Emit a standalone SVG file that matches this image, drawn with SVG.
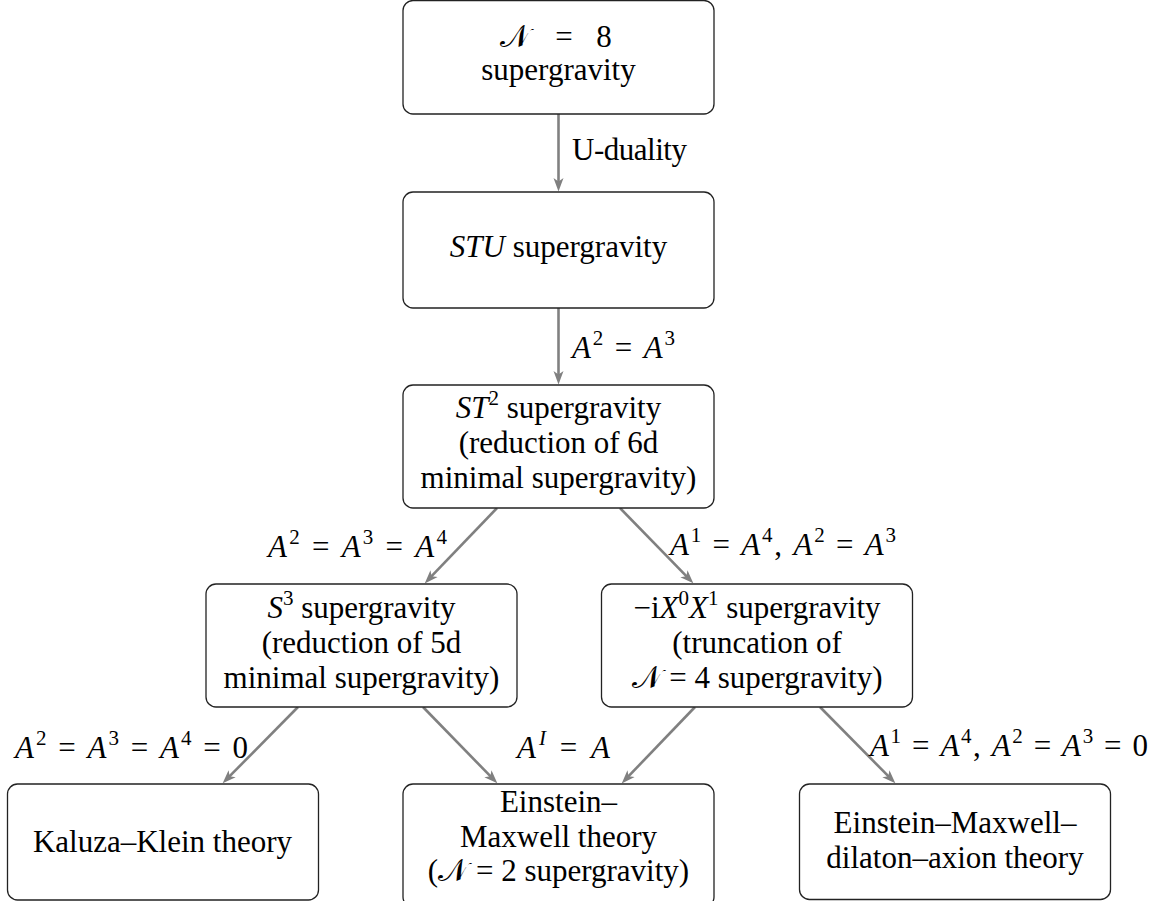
<svg xmlns="http://www.w3.org/2000/svg" width="1157" height="901" viewBox="0 0 1157 901">
<style>
.box{fill:#fff;stroke:#222;stroke-width:1.3}
.t{font-family:"Liberation Serif","DejaVu Serif",serif;font-size:31px;fill:#000;text-anchor:middle}
.lb{font-family:"Liberation Serif","DejaVu Serif",serif;font-size:31px;fill:#000}
.i{font-style:italic}
.cal{font-family:"DejaVu Serif","DejaVu Sans","Noto Sans",serif;font-style:normal}
.sup{font-size:21px}
.arr{stroke:#808080;stroke-width:2.6;fill:none;marker-end:url(#ah)}
</style>
<defs>
<marker id="ah" markerUnits="userSpaceOnUse" markerWidth="14" markerHeight="11" viewBox="0 0 14 11" refX="7" refY="5.5" orient="auto">
<path d="M0,0.5 L13.5,5.5 L0,10.5 L3.5,5.5 Z" fill="#808080"/>
</marker>
</defs>
<g id="connectors">
<line class="arr" x1="558.5" y1="114" x2="558.5" y2="185"/>
<line class="arr" x1="558.5" y1="308" x2="558.5" y2="378"/>
<line class="arr" x1="497" y1="508" x2="429.2" y2="578.7"/>
<line class="arr" x1="620" y1="508" x2="688.8" y2="578.7"/>
<line class="arr" x1="298" y1="707" x2="227.2" y2="778.7"/>
<line class="arr" x1="423" y1="707" x2="492.8" y2="778.7"/>
<line class="arr" x1="695" y1="707" x2="626.2" y2="778.7"/>
<line class="arr" x1="820" y1="707" x2="890.8" y2="778.7"/>
<text class="lb" x="572" y="160" textLength="115" lengthAdjust="spacing">U-duality</text>
<text class="lb" x="572" y="358" textLength="103" lengthAdjust="spacing"><tspan class="i">A</tspan><tspan class="sup" dy="-13">2</tspan><tspan dy="13"> = </tspan><tspan class="i">A</tspan><tspan class="sup" dy="-13">3</tspan></text>
<text class="lb" x="268" y="557" textLength="179" lengthAdjust="spacing"><tspan class="i">A</tspan><tspan class="sup" dy="-13">2</tspan><tspan dy="13"> = </tspan><tspan class="i">A</tspan><tspan class="sup" dy="-13">3</tspan><tspan dy="13"> = </tspan><tspan class="i">A</tspan><tspan class="sup" dy="-13">4</tspan></text>
<text class="lb" x="670" y="555" textLength="226" lengthAdjust="spacing"><tspan class="i">A</tspan><tspan class="sup" dy="-13">1</tspan><tspan dy="13"> = </tspan><tspan class="i">A</tspan><tspan class="sup" dy="-13">4</tspan><tspan dy="13">, </tspan><tspan class="i">A</tspan><tspan class="sup" dy="-13">2</tspan><tspan dy="13"> = </tspan><tspan class="i">A</tspan><tspan class="sup" dy="-13">3</tspan></text>
<text class="lb" x="15" y="758" textLength="233" lengthAdjust="spacing"><tspan class="i">A</tspan><tspan class="sup" dy="-13">2</tspan><tspan dy="13"> = </tspan><tspan class="i">A</tspan><tspan class="sup" dy="-13">3</tspan><tspan dy="13"> = </tspan><tspan class="i">A</tspan><tspan class="sup" dy="-13">4</tspan><tspan dy="13"> = 0</tspan></text>
<text class="lb" x="517" y="758" textLength="93" lengthAdjust="spacing"><tspan class="i">A</tspan><tspan class="sup i" dy="-13">I</tspan><tspan dy="13"> = </tspan><tspan class="i">A</tspan></text>
<text class="lb" x="870" y="756" textLength="278" lengthAdjust="spacing"><tspan class="i">A</tspan><tspan class="sup" dy="-13">1</tspan><tspan dy="13"> = </tspan><tspan class="i">A</tspan><tspan class="sup" dy="-13">4</tspan><tspan dy="13">, </tspan><tspan class="i">A</tspan><tspan class="sup" dy="-13">2</tspan><tspan dy="13"> = </tspan><tspan class="i">A</tspan><tspan class="sup" dy="-13">3</tspan><tspan dy="13"> = 0</tspan></text>
</g>
<g id="n8">
<rect class="box" x="403" y="0.5" width="311" height="113.5" rx="10"/>
<text class="t" y="47"><tspan class="cal" x="515">𝒩</tspan><tspan x="564">=</tspan><tspan x="604">8</tspan></text>
<text class="t" x="558.5" y="80">supergravity</text>
</g>
<g id="stu">
<rect class="box" x="403" y="192" width="311" height="116" rx="10"/>
<text class="t" x="558.5" y="257"><tspan class="i">STU</tspan> supergravity</text>
</g>
<g id="st2">
<rect class="box" x="403" y="385" width="311" height="123" rx="10"/>
<text class="t" x="558.5" y="418"><tspan class="i">ST</tspan><tspan class="sup" dy="-13">2</tspan><tspan dy="13"> supergravity</tspan></text>
<text class="t" x="558.5" y="453">(reduction of 6d</text>
<text class="t" x="558.5" y="488">minimal supergravity)</text>
</g>
<g id="s3">
<rect class="box" x="206" y="584" width="311" height="123" rx="10"/>
<text class="t" x="361.5" y="618"><tspan class="i">S</tspan><tspan class="sup" dy="-13">3</tspan><tspan dy="13"> supergravity</tspan></text>
<text class="t" x="361.5" y="653">(reduction of 5d</text>
<text class="t" x="361.5" y="688">minimal supergravity)</text>
</g>
<g id="x0x1">
<rect class="box" x="601.5" y="584" width="311" height="123" rx="10"/>
<text class="t" x="757" y="618">−i<tspan class="i">X</tspan><tspan class="sup" dy="-13">0</tspan><tspan class="i" dy="13">X</tspan><tspan class="sup" dy="-13">1</tspan><tspan dy="13"> supergravity</tspan></text>
<text class="t" x="757" y="653">(truncation of</text>
<text class="t" x="757" y="688"><tspan class="cal">𝒩</tspan> = 4 supergravity)</text>
</g>
<g id="kk">
<rect class="box" x="7.5" y="784" width="311" height="116" rx="10"/>
<text class="t" x="162.5" y="852">Kaluza–Klein theory</text>
</g>
<g id="em">
<rect class="box" x="403" y="784" width="311" height="123" rx="10"/>
<text class="t" x="558.5" y="812">Einstein–</text>
<text class="t" x="558.5" y="847">Maxwell theory</text>
<text class="t" x="558.5" y="881">(<tspan class="cal">𝒩</tspan> = 2 supergravity)</text>
</g>
<g id="emda">
<rect class="box" x="799.5" y="784" width="311" height="115.5" rx="10"/>
<text class="t" x="955" y="833">Einstein–Maxwell–</text>
<text class="t" x="955" y="868">dilaton–axion theory</text>
</g>
</svg>
